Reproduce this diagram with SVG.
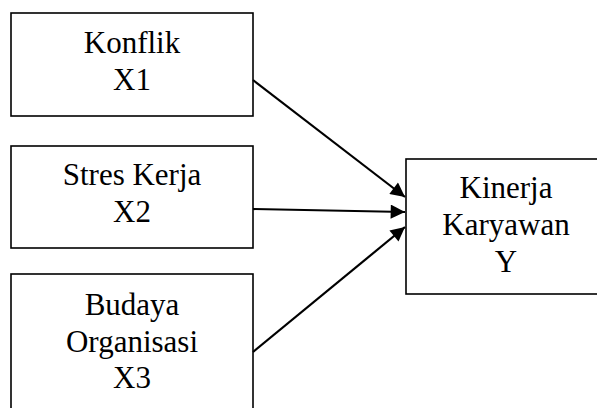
<svg xmlns="http://www.w3.org/2000/svg" width="597" height="408" viewBox="0 0 597 408">
<style>
.box{fill:#fff;stroke:#000;stroke-width:1.6}
text{font-family:'Liberation Serif','Times New Roman',Times,serif;font-size:31px;fill:#000;text-anchor:middle}
.c{stroke:#000;stroke-width:2.2;fill:none;marker-end:url(#ah)}
</style>
<defs>
<marker id="ah" viewBox="0 0 10 10" refX="10" refY="5" markerWidth="7" markerHeight="6.5" markerUnits="strokeWidth" orient="auto">
<path d="M0,0 L10,5 L0,10 z" fill="#000"/>
</marker>
</defs>
<g id="n1"><rect class="box" x="11" y="13" width="242" height="103"/>
<text x="132" y="53">Konflik</text><text x="132" y="90">X1</text></g>
<g id="n2"><rect class="box" x="11" y="146" width="242" height="102"/>
<text x="132" y="185">Stres Kerja</text><text x="132" y="222">X2</text></g>
<g id="n3"><rect class="box" x="11" y="274" width="242" height="140"/>
<text x="132" y="315">Budaya</text><text x="132" y="352">Organisasi</text><text x="132" y="388">X3</text></g>
<g id="y"><rect class="box" x="406" y="159" width="200" height="135"/>
<text x="506" y="198">Kinerja</text><text x="506" y="235">Karyawan</text><text x="506" y="272">Y</text></g>
<g id="connectors">
<line class="c" x1="253" y1="80" x2="405" y2="197"/>
<line class="c" x1="253" y1="209" x2="405" y2="212"/>
<line class="c" x1="253" y1="352" x2="405" y2="227"/>
</g>
</svg>
